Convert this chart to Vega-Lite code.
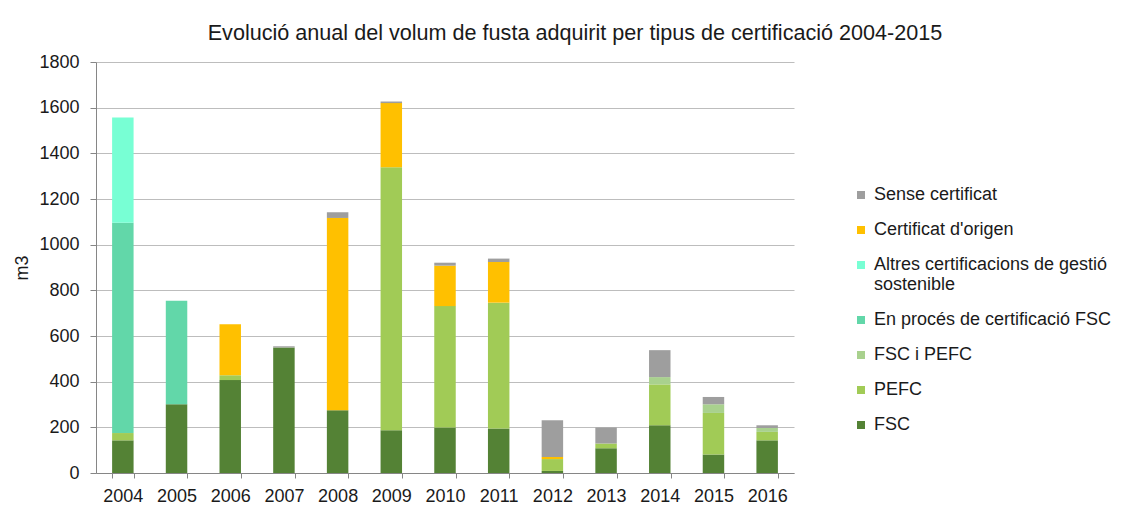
{
  "$schema": "https://vega.github.io/schema/vega-lite/v6.json",
  "autosize": {"type": "none"},
  "width": 698,
  "height": 411,
  "padding": {"left": 96, "top": 62, "right": 340, "bottom": 49},
  "background": "white",
  "title": {
    "text": "Evolució anual del volum de fusta adquirit per tipus de certificació 2004-2015",
    "font": "Liberation Sans",
    "fontSize": 21.6,
    "fontWeight": "normal",
    "color": "#1a1a1a",
    "anchor": "middle",
    "frame": "group",
    "dx": 130,
    "offset": 8
  },
  "datasets": {
    "categories": [
      {"tipus": "FSC", "nivell": 1},
      {"tipus": "PEFC", "nivell": 2},
      {"tipus": "FSC i PEFC", "nivell": 3},
      {"tipus": "En procés de certificació FSC", "nivell": 4},
      {"tipus": "Altres certificacions de gestió sostenible", "nivell": 5},
      {"tipus": "Certificat d'origen", "nivell": 6},
      {"tipus": "Sense certificat", "nivell": 7}
    ]
  },
  "data": {
    "values": [
      {"any": "2004", "tipus": "FSC", "m3": 143},
      {"any": "2004", "tipus": "PEFC", "m3": 32},
      {"any": "2004", "tipus": "En procés de certificació FSC", "m3": 921},
      {"any": "2004", "tipus": "Altres certificacions de gestió sostenible", "m3": 461},
      {"any": "2005", "tipus": "FSC", "m3": 301},
      {"any": "2005", "tipus": "En procés de certificació FSC", "m3": 453},
      {"any": "2006", "tipus": "FSC", "m3": 407},
      {"any": "2006", "tipus": "PEFC", "m3": 21},
      {"any": "2006", "tipus": "Certificat d'origen", "m3": 223},
      {"any": "2007", "tipus": "FSC", "m3": 550},
      {"any": "2007", "tipus": "Sense certificat", "m3": 5},
      {"any": "2008", "tipus": "FSC", "m3": 275},
      {"any": "2008", "tipus": "Certificat d'origen", "m3": 842},
      {"any": "2008", "tipus": "Sense certificat", "m3": 25},
      {"any": "2009", "tipus": "FSC", "m3": 187},
      {"any": "2009", "tipus": "PEFC", "m3": 1152},
      {"any": "2009", "tipus": "Certificat d'origen", "m3": 281},
      {"any": "2009", "tipus": "Sense certificat", "m3": 7},
      {"any": "2010", "tipus": "FSC", "m3": 199},
      {"any": "2010", "tipus": "PEFC", "m3": 532},
      {"any": "2010", "tipus": "Certificat d'origen", "m3": 177},
      {"any": "2010", "tipus": "Sense certificat", "m3": 13},
      {"any": "2011", "tipus": "FSC", "m3": 195},
      {"any": "2011", "tipus": "PEFC", "m3": 551},
      {"any": "2011", "tipus": "Certificat d'origen", "m3": 178},
      {"any": "2011", "tipus": "Sense certificat", "m3": 15},
      {"any": "2012", "tipus": "FSC", "m3": 9},
      {"any": "2012", "tipus": "PEFC", "m3": 52},
      {"any": "2012", "tipus": "Certificat d'origen", "m3": 9},
      {"any": "2012", "tipus": "Sense certificat", "m3": 161},
      {"any": "2013", "tipus": "FSC", "m3": 108},
      {"any": "2013", "tipus": "PEFC", "m3": 21},
      {"any": "2013", "tipus": "Sense certificat", "m3": 70},
      {"any": "2014", "tipus": "FSC", "m3": 209},
      {"any": "2014", "tipus": "PEFC", "m3": 179},
      {"any": "2014", "tipus": "FSC i PEFC", "m3": 32},
      {"any": "2014", "tipus": "Sense certificat", "m3": 118},
      {"any": "2015", "tipus": "FSC", "m3": 81},
      {"any": "2015", "tipus": "PEFC", "m3": 182},
      {"any": "2015", "tipus": "FSC i PEFC", "m3": 38},
      {"any": "2015", "tipus": "Sense certificat", "m3": 32},
      {"any": "2016", "tipus": "FSC", "m3": 143},
      {"any": "2016", "tipus": "PEFC", "m3": 37},
      {"any": "2016", "tipus": "FSC i PEFC", "m3": 17},
      {"any": "2016", "tipus": "Sense certificat", "m3": 12}
    ]
  },
  "transform": [
    {"lookup": "tipus", "from": {"data": {"name": "categories"}, "key": "tipus", "fields": ["nivell"]}}
  ],
  "mark": {"type": "bar"},
  "encoding": {
    "x": {
      "field": "any",
      "type": "ordinal",
      "title": null,
      "scale": {"paddingInner": 0.6, "paddingOuter": 0.3},
      "axis": {
        "labelAngle": 0,
        "labelFont": "Liberation Sans",
        "labelFontSize": 18,
        "labelColor": "#1a1a1a",
        "labelPadding": 9,
        "tickBand": "extent",
        "tickSize": 5,
        "tickColor": "#868686",
        "domainColor": "#868686",
        "grid": false
      }
    },
    "y": {
      "field": "m3",
      "type": "quantitative",
      "stack": "zero",
      "title": "m3",
      "scale": {"domain": [0, 1800], "nice": false},
      "axis": {
        "values": [0, 200, 400, 600, 800, 1000, 1200, 1400, 1600, 1800],
        "format": "d",
        "labelFont": "Liberation Sans",
        "labelFontSize": 18,
        "labelColor": "#1a1a1a",
        "labelPadding": 11,
        "tickSize": 6,
        "tickColor": "#868686",
        "domainColor": "#868686",
        "gridColor": "#BDBDBD",
        "gridWidth": 1.2,
        "titleFont": "Liberation Sans",
        "titleFontSize": 18,
        "titleFontWeight": "normal",
        "titleColor": "#1a1a1a",
        "titlePadding": 7
      }
    },
    "color": {
      "field": "tipus",
      "type": "nominal",
      "scale": {
        "domain": ["Sense certificat", "Certificat d'origen", "Altres certificacions de gestió sostenible", "En procés de certificació FSC", "FSC i PEFC", "PEFC", "FSC"],
        "range": ["#9E9E9E", "#FFC000", "#78FFD4", "#62D7A9", "#A9D18E", "#A1CB56", "#548235"]
      },
      "legend": {
        "title": null,
        "orient": "none",
        "legendX": 756,
        "legendY": 124,
        "padding": 0,
        "symbolType": "square",
        "symbolSize": 64,
        "symbolStrokeWidth": 0,
        "labelFont": "Liberation Sans",
        "labelFontSize": 18,
        "labelColor": "#1a1a1a",
        "labelOffset": 4,
        "labelLimit": 300,
        "rowPadding": 17,
        "labelExpr": "datum.label == 'Altres certificacions de gestió sostenible' ? ['Altres certificacions de gestió', 'sostenible'] : datum.label"
      }
    },
    "order": {"field": "nivell", "type": "quantitative", "sort": "ascending"}
  },
  "config": {
    "view": {"stroke": null},
    "font": "Liberation Sans"
  }
}
